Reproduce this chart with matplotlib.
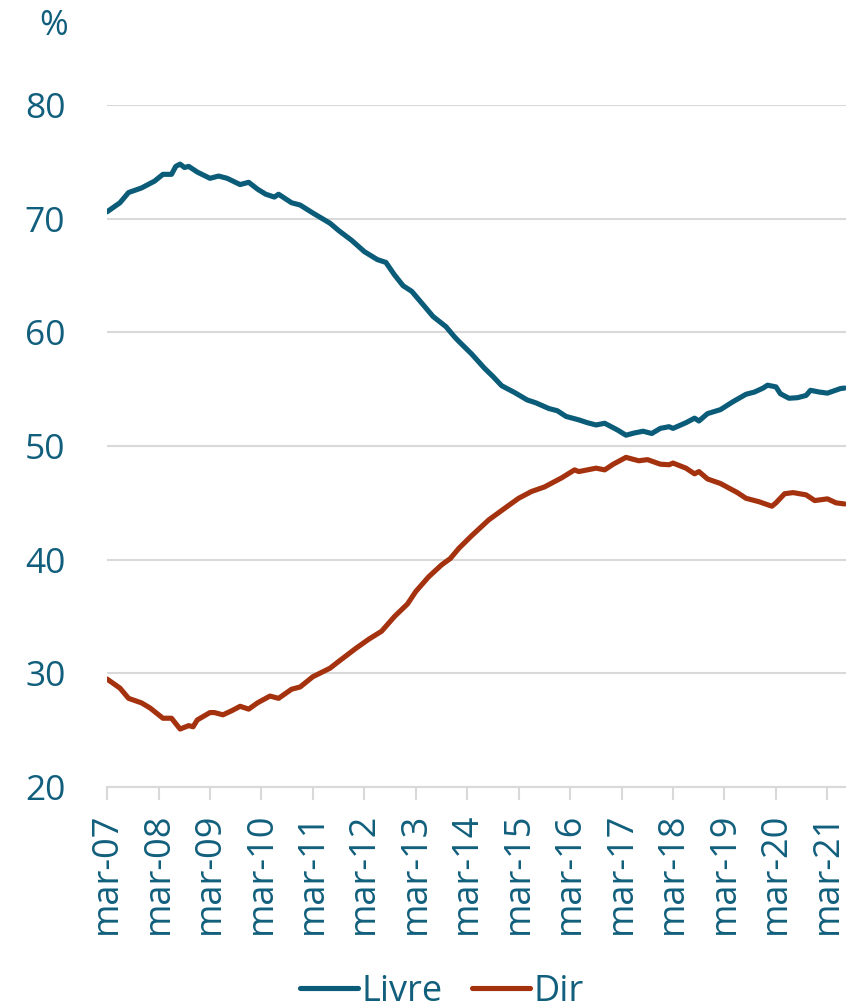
import pandas as pd
import matplotlib
matplotlib.use('Agg')
import matplotlib.pyplot as plt

plt.rcParams['font.family'] = ['Open Sans', 'DejaVu Sans']

# months after mar-07 and share (%)
livre_m = [0, 3, 5, 8, 11, 13, 15, 16, 17, 18, 19, 21, 24, 26, 28, 31, 33, 35, 37, 39,
           40, 43, 45, 48, 52, 54, 57, 60, 63, 65, 67, 69, 71, 74, 76, 79, 81, 82, 85, 88,
           90, 92, 95, 98, 100, 103, 105, 107, 110, 112, 114, 116, 119, 121, 123, 125, 127,
           129, 131, 132, 135, 137, 138, 140, 143, 146, 149, 151, 153, 154, 156, 157, 159,
           161, 163, 164, 166, 168, 171, 172]
livre_v = [70.6, 71.4, 72.3, 72.7, 73.3, 73.9, 73.9, 74.6, 74.8, 74.5, 74.6, 74.1, 73.55,
           73.75, 73.55, 73.0, 73.2, 72.6, 72.15, 71.9, 72.15, 71.4, 71.2, 70.5, 69.6, 68.95,
           68.1, 67.1, 66.4, 66.15, 65.05, 64.1, 63.6, 62.3, 61.4, 60.5, 59.6, 59.2, 58.1,
           56.85, 56.1, 55.3, 54.7, 54.05, 53.8, 53.3, 53.1, 52.6, 52.3, 52.05, 51.85, 52.0,
           51.4, 50.95, 51.15, 51.3, 51.1, 51.55, 51.7, 51.55, 52.05, 52.45, 52.2, 52.85,
           53.2, 53.9, 54.55, 54.75, 55.1, 55.35, 55.2, 54.6, 54.2, 54.25, 54.45, 54.9, 54.75,
           54.65, 55.05, 55.1]

dir_m = [0, 3, 5, 8, 10, 13, 15, 17, 19, 20, 21, 24, 25, 27, 29, 31, 33, 35, 38, 40, 43,
         45, 48, 52, 54, 58, 61, 64, 67, 70, 72, 75, 78, 80, 82, 85, 89, 93, 96, 99, 102,
         106, 109, 110, 114, 116, 118, 121, 124, 126, 129, 131, 132, 135, 137, 138, 140,
         143, 147, 149, 152, 155, 156, 158, 160, 163, 165, 168, 170, 172]
dir_v = [29.5, 28.7, 27.8, 27.4, 26.95, 26.05, 26.05, 25.1, 25.4, 25.3, 25.9, 26.55, 26.55,
         26.35, 26.7, 27.1, 26.85, 27.4, 28.0, 27.8, 28.6, 28.8, 29.7, 30.45, 31.05, 32.2,
         33.0, 33.7, 35.0, 36.1, 37.2, 38.5, 39.55, 40.1, 41.0, 42.1, 43.5, 44.6, 45.4, 46.0,
         46.4, 47.2, 47.9, 47.75, 48.05, 47.9, 48.4, 49.0, 48.7, 48.8, 48.4, 48.35, 48.5,
         48.05, 47.55, 47.75, 47.1, 46.7, 45.9, 45.4, 45.1, 44.7, 45.0, 45.8, 45.9, 45.7,
         45.2, 45.35, 45.0, 44.9]

tick_labels = ['mar-07', 'mar-08', 'mar-09', 'mar-10', 'mar-11', 'mar-12', 'mar-13', 'mar-14',
               'mar-15', 'mar-16', 'mar-17', 'mar-18', 'mar-19', 'mar-20', 'mar-21']

start = pd.Timestamp('2007-03-01')
livre_d = [start + pd.DateOffset(months=m) for m in livre_m]
dir_d = [start + pd.DateOffset(months=m) for m in dir_m]
tick_d = [start + pd.DateOffset(years=i) for i in range(len(tick_labels))]

teal = '#0b5c79'
red = '#a5320f'
txt = '#115f7c'
grey = '#d9d9d9'

fig = plt.figure(figsize=(8.46, 10.02), dpi=100)
ax = fig.add_axes([107/846, 215/1002, 739/846, 682/1002])

ax.plot(livre_d, livre_v, color=teal, lw=3.7, label='Livre', solid_capstyle='round')
ax.plot(dir_d, dir_v, color=red, lw=3.7, label='Dir', solid_capstyle='round')

ax.set_ylim(20, 80)
ax.set_yticks(range(20, 81, 10))
ax.set_xlim(start, start + pd.DateOffset(months=172) + pd.Timedelta(days=10))
ax.set_xticks(tick_d)
ax.set_xticklabels(tick_labels, rotation=90)

ax.grid(axis='y', color=grey, lw=1.5)
ax.set_axisbelow(True)
for s in ['top', 'right', 'left']:
    ax.spines[s].set_visible(False)
ax.spines['bottom'].set_color(grey)
ax.spines['bottom'].set_linewidth(1.5)

ax.tick_params(axis='y', length=0, pad=30, labelsize=25.5, labelcolor=txt)
ax.tick_params(axis='x', length=9.5, width=1.5, color=grey, pad=9, labelsize=26, labelcolor=txt)

fig.text(54/846, 1 - 26/1002, '%', fontsize=25, color=txt, ha='center', va='center')

# legend sits partly below the bottom edge, as in the source image
fig.legend(loc='center', bbox_to_anchor=(442/846, 10/1002), ncol=2, frameon=False,
           fontsize=26, labelcolor=txt, handlelength=1.6, handletextpad=0.1,
           columnspacing=0.8)

fig.savefig('out.png', dpi=100, facecolor='white')
